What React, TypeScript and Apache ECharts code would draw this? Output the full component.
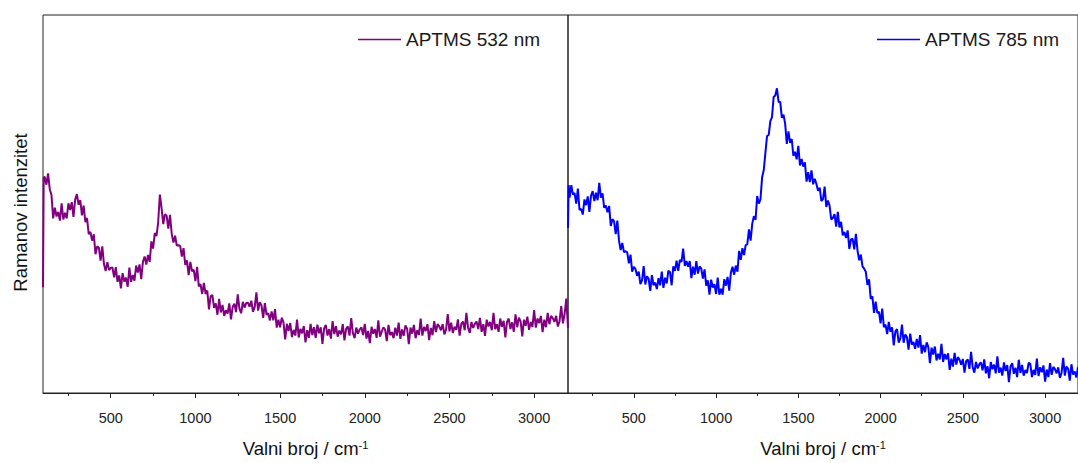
import React, { useEffect, useRef } from "react";
import * as echarts from "echarts";

// Wavenumber samples (cm^-1), shared by both spectra
const wavenumbers = [
  100, 104,
  110, 120, 130, 140, 150, 160, 170, 180, 190, 200,
  210, 220, 230, 240, 250, 260, 270, 280, 290, 300,
  310, 320, 330, 340, 350, 360, 370, 380, 390, 400,
  410, 420, 430, 440, 450, 460, 470, 480, 490, 500,
  510, 520, 530, 540, 550, 560, 570, 580, 590, 600,
  610, 620, 630, 640, 650, 660, 670, 680, 690, 700,
  710, 720, 730, 740, 750, 760, 770, 780, 790, 800,
  810, 820, 830, 840, 850, 860, 870, 880, 890, 900,
  910, 920, 930, 940, 950, 960, 970, 980, 990, 1000,
  1010, 1020, 1030, 1040, 1050, 1060, 1070, 1080, 1090, 1100,
  1110, 1120, 1130, 1140, 1150, 1160, 1170, 1180, 1190, 1200,
  1210, 1220, 1230, 1240, 1250, 1260, 1270, 1280, 1290, 1300,
  1310, 1320, 1330, 1340, 1350, 1360, 1370, 1380, 1390, 1400,
  1410, 1420, 1430, 1440, 1450, 1460, 1470, 1480, 1490, 1500,
  1510, 1520, 1530, 1540, 1550, 1560, 1570, 1580, 1590, 1600,
  1610, 1620, 1630, 1640, 1650, 1660, 1670, 1680, 1690, 1700,
  1710, 1720, 1730, 1740, 1750, 1760, 1770, 1780, 1790, 1800,
  1810, 1820, 1830, 1840, 1850, 1860, 1870, 1880, 1890, 1900,
  1910, 1920, 1930, 1940, 1950, 1960, 1970, 1980, 1990, 2000,
  2010, 2020, 2030, 2040, 2050, 2060, 2070, 2080, 2090, 2100,
  2110, 2120, 2130, 2140, 2150, 2160, 2170, 2180, 2190, 2200,
  2210, 2220, 2230, 2240, 2250, 2260, 2270, 2280, 2290, 2300,
  2310, 2320, 2330, 2340, 2350, 2360, 2370, 2380, 2390, 2400,
  2410, 2420, 2430, 2440, 2450, 2460, 2470, 2480, 2490, 2500,
  2510, 2520, 2530, 2540, 2550, 2560, 2570, 2580, 2590, 2600,
  2610, 2620, 2630, 2640, 2650, 2660, 2670, 2680, 2690, 2700,
  2710, 2720, 2730, 2740, 2750, 2760, 2770, 2780, 2790, 2800,
  2810, 2820, 2830, 2840, 2850, 2860, 2870, 2880, 2890, 2900,
  2910, 2920, 2930, 2940, 2950, 2960, 2970, 2980, 2990, 3000,
  3010, 3020, 3030, 3040, 3050, 3060, 3070, 3080, 3090, 3100,
  3110, 3120, 3130, 3140, 3150, 3160, 3170, 3180, 3190, 3200,
];

// APTMS 532 nm intensities (arbitrary units)
const aptms532 = [
  28, 57,
  57.2, 55.1, 58.1, 53.9, 52.4, 46.2, 49, 46.7, 47.9, 45.6,
  50.2, 45.9, 47.7, 46.2, 50.2, 48.4, 50.5, 46.6, 51.2, 52.6,
  49.8, 51, 47, 49.6, 45.2, 46.3, 42, 42.6, 40.3, 42,
  36.7, 38.8, 38.4, 35, 38.8, 34.1, 32.3, 34.6, 32.5, 33.1,
  33.2, 30.6, 33.3, 29.4, 31.1, 27.7, 31.7, 29.5, 30.5, 28.1,
  33.2, 29.4, 31.2, 29.7, 33.7, 31.9, 34, 30.1, 34.7, 36.1,
  34, 36.5, 34.7, 40.1, 38.2, 42.3, 41.5, 45.1, 52.5, 49,
  44.7, 47.3, 46.9, 43.5, 47.1, 42.1, 39.8, 41.6, 39, 39.1,
  38.9, 36.1, 38.3, 33.9, 35.1, 31.2, 34.7, 32.2, 32.6, 29.6,
  33.4, 28.2, 28.8, 26.2, 29.1, 26.2, 27.1, 22.1, 25.6, 25.9,
  22.5, 23.7, 20.7, 24.9, 21.3, 23.3, 20.4, 21.9, 21, 23.7,
  19.5, 22.8, 23.6, 21.4, 26.1, 22.3, 21.1, 24.1, 22.6, 23.8,
  23.9, 22.8, 24.4, 21.5, 22.7, 26.6, 21.8, 24, 23.2, 19.9,
  23.8, 20.7, 21.1, 19.2, 21.6, 19.2, 22.2, 17.3, 19.4, 17.4,
  19.9, 18.7, 14.2, 18.3, 16.4, 18.5, 14.8, 16.7, 15.2, 19.4,
  14.7, 17, 15.8, 17.7, 13.4, 16.6, 14.6, 18.3, 15.3, 17.4,
  14.6, 18.1, 15.8, 17.4, 13, 17.1, 18, 15.2, 16.9, 14.4,
  19, 15.6, 17.7, 14.9, 16.5, 15.5, 18.2, 13.9, 17, 17.6,
  15.2, 19.8, 15.8, 14.5, 17.3, 15.7, 16.8, 17.4, 15.3, 18.3,
  14.4, 16.4, 13.2, 17.5, 15.7, 16.9, 14.6, 19.2, 14.9, 16.2,
  17.4, 16.8, 13.7, 18, 15.3, 16.1, 14.5, 17.3, 15.2, 18.6,
  14.3, 16.8, 15.1, 17.9, 17, 12.9, 17.3, 15.7, 18, 14.5,
  16.6, 15.4, 19.7, 15.2, 17.5, 16.4, 18.2, 14, 17.2, 15.3,
  19, 16.1, 18.2, 17.6, 16.6, 18.2, 15.5, 16.8, 20.9, 16.3,
  18.6, 15.9, 17.5, 16.7, 19.5, 15.2, 18.3, 18.9, 16.6, 21.2,
  17.2, 15.9, 18.8, 17.2, 18.3, 18.9, 16.9, 19.9, 16.2, 18.2,
  15.1, 19.4, 17.6, 18.8, 16.6, 21.2, 16.9, 18.2, 16.2, 19.7,
  17.5, 19.1, 14.7, 18.8, 19.7, 16.9, 18.7, 16.2, 20.8, 17.4,
  19.9, 19, 15, 19.4, 17.8, 20.2, 16.7, 18.8, 17.5, 21.9,
  17.3, 19.7, 18.5, 20.4, 16.1, 19.4, 17.4, 21.2, 18.2, 20.4,
  19.8, 18.8, 20.4, 17.6, 19, 23, 18.4, 20.9, 25, 17.2,
];

// APTMS 785 nm intensities (arbitrary units)
const aptms785 = [
  43.7, 55,
  51.7, 55, 52.5, 52.9, 50.1, 54.1, 48.4, 48.7, 47.2, 51.2,
  49.7, 52, 47.9, 52.2, 53.4, 50.8, 53, 51, 55.6, 51.7,
  52.8, 49, 49.6, 47.8, 49.5, 44.2, 46, 45.4, 42, 45.6,
  40.3, 37.8, 39.7, 37.3, 37.5, 37.2, 34.3, 36.6, 32.1, 33.4,
  32.8, 31, 32.1, 28.8, 29.8, 33.6, 28.7, 30.9, 30.2, 27,
  31.2, 28.5, 29.2, 27.5, 30.4, 28.5, 32.1, 27.8, 30.5, 29,
  32.3, 32, 28.5, 33.5, 32.3, 35, 32.3, 35.2, 34.7, 38.2,
  33.6, 34.9, 33.4, 34.9, 30.4, 33.4, 31.3, 34.9, 31.6, 33.5,
  32.9, 30.3, 32.7, 28.4, 29.8, 26, 30, 27.9, 28.8, 26.2,
  30.5, 26, 27.6, 26, 30.1, 28.4, 30.7, 27.1, 31.8, 33.4,
  31.3, 33.7, 32.1, 37.6, 35.2, 38.3, 36.5, 39.1, 39.4, 43.3,
  40.3, 44.8, 46.8, 45.8, 52.1, 50.1, 51.3, 57.1, 59, 63.6,
  68, 68.3, 71.9, 73, 78.3, 78.7, 80.6, 77, 77, 72.8,
  73.6, 71.2, 65.9, 69.2, 66.2, 67.2, 62.7, 63.8, 61.8, 65.4,
  60.2, 61.9, 59.9, 61, 55.9, 58.4, 55.8, 58.9, 55.2, 56.7,
  55.3, 53.5, 54.3, 50.8, 51.3, 54.6, 49.2, 50.9, 49.6, 45.9,
  46.3, 47.3, 44, 47.9, 43.8, 45.3, 41.7, 42.6, 41, 43,
  38.1, 40.6, 40.8, 38, 42.1, 37.6, 35.1, 36.6, 33.5, 32.9,
  32.1, 28.6, 30.1, 24.9, 25.6, 21.2, 24.2, 21.2, 21.5, 18.4,
  22.3, 17.4, 18.1, 15.6, 18.8, 16.2, 17.4, 12.6, 16.3, 16.9,
  13.3, 14.4, 18.1, 13.3, 15.5, 14.8, 11.5, 15.7, 12.8, 13.5,
  11.7, 14.3, 12, 15.3, 10.4, 12.7, 10.8, 13.4, 12.2, 7.9,
  12, 10.2, 12.3, 8.6, 10.4, 8.9, 13, 8.2, 10.3, 8.9,
  10.5, 6.1, 9.1, 7, 10.6, 7.5, 9.5, 8.8, 7.5, 9,
  5.4, 8.4, 8.9, 6.4, 10.9, 6.8, 5.4, 8.2, 6.5, 7.6,
  8.1, 6, 8.9, 5.2, 7.1, 3.9, 8.2, 6.3, 7.5, 5.2,
  9.7, 5.4, 6.7, 4.6, 8.1, 5.8, 7.4, 2.9, 7, 7.9,
  5.1, 6.7, 4.2, 8.8, 5.3, 7.4, 4.6, 6.1, 5.3, 8,
  7.7, 4.2, 6.1, 4.8, 9.1, 4.5, 6.8, 5.5, 7.3, 3,
  6.2, 4.2, 7.9, 4.8, 6.9, 6.3, 5.2, 6.8, 4, 5.3,
  9.3, 4.6, 7, 6.4, 3.3, 7.6, 4.9, 5.7, 4.1, 6.9,
];

const tickLabels = [500, 1000, 1500, 2000, 2500, 3000];
const minorTicks = [250, 750, 1250, 1750, 2250, 2750];

const series532Name = "APTMS 532 nm";
const series785Name = "APTMS 785 nm";
const xName = "Valni broj / cm{sup|-1}";
const yName = "Ramanov intenzitet";

const COLOR_532 = "#800080";
const COLOR_785 = "#0000ff";

const FONT = "'Liberation Sans', Arial, sans-serif";
const AXIS_COLOR = "#222";

function mainXAxis(gridIndex: number) {
  return {
    type: "value",
    gridIndex,
    min: 100,
    max: 3200,
    axisLine: { show: true, lineStyle: { color: AXIS_COLOR, width: 1 } },
    axisTick: {
      show: true,
      length: 5,
      customValues: tickLabels,
      lineStyle: { color: AXIS_COLOR, width: 1 },
    },
    axisLabel: {
      customValues: tickLabels,
      formatter: (v: number) => String(v),
      fontSize: 14.5,
      color: "#222",
      margin: 17,
      fontFamily: FONT,
    },
    splitLine: { show: false },
    name: xName,
    nameLocation: "middle",
    nameGap: 46,
    nameTextStyle: {
      fontSize: 18.5,
      color: "#111",
      fontFamily: FONT,
      rich: {
        sup: { fontSize: 11, verticalAlign: "top", fontFamily: FONT, color: "#111" },
      },
    },
  };
}

function minorXAxis(gridIndex: number) {
  return {
    type: "value",
    gridIndex,
    min: 100,
    max: 3200,
    position: "bottom",
    axisLine: { show: false },
    axisTick: {
      show: true,
      length: 3,
      customValues: minorTicks,
      lineStyle: { color: AXIS_COLOR, width: 1 },
    },
    axisLabel: { show: false },
    splitLine: { show: false },
  };
}

function legendFor(name: string, color: string, left: number) {
  return {
    data: [{ name, icon: "rect", itemStyle: { color, borderWidth: 0 } }],
    left,
    top: 30,
    padding: 0,
    itemWidth: 43,
    itemHeight: 1.3,
    textStyle: { fontSize: 19, color: "#1a1a1a", fontFamily: FONT },
  };
}

export default function App() {
  const ref = useRef<HTMLDivElement>(null);

  useEffect(() => {
    if (!ref.current) return;
    const chart = echarts.init(ref.current, undefined, { renderer: "svg" });
    const option = {
      animation: false,
      backgroundColor: "#ffffff",
      textStyle: { fontFamily: FONT },
      grid: [
        { left: 43, top: 15, width: 525, height: 387, show: true, borderColor: AXIS_COLOR, borderWidth: 1, backgroundColor: "transparent" },
        { left: 568, top: 15, width: 525, height: 387, show: true, borderColor: AXIS_COLOR, borderWidth: 1, backgroundColor: "transparent" },
      ],
      xAxis: [mainXAxis(0), mainXAxis(1), minorXAxis(0), minorXAxis(1)],
      yAxis: [
        {
          type: "value",
          gridIndex: 0,
          min: 0,
          max: 100,
          axisLine: { show: false },
          axisTick: { show: false },
          axisLabel: { show: false },
          splitLine: { show: false },
          name: yName,
          nameLocation: "middle",
          nameGap: 13,
          nameTextStyle: { fontSize: 18.5, color: "#111", fontFamily: FONT, padding: [0, 17, 0, 0] },
        },
        {
          type: "value",
          gridIndex: 1,
          min: 0,
          max: 100,
          axisLine: { show: false },
          axisTick: { show: false },
          axisLabel: { show: false },
          splitLine: { show: false },
        },
      ],
      legend: [
        legendFor(series532Name, COLOR_532, 358),
        legendFor(series785Name, COLOR_785, 877),
      ],
      series: [
        {
          type: "line",
          name: series532Name,
          xAxisIndex: 0,
          yAxisIndex: 0,
          data: wavenumbers.map((w, i) => [w, aptms532[i]]),
          symbol: "none",
          color: COLOR_532,
          lineStyle: { width: 2, color: COLOR_532 },
          itemStyle: { color: COLOR_532 },
        },
        {
          type: "line",
          name: series785Name,
          xAxisIndex: 1,
          yAxisIndex: 1,
          data: wavenumbers.map((w, i) => [w, aptms785[i]]),
          symbol: "none",
          color: COLOR_785,
          lineStyle: { width: 2, color: COLOR_785 },
          itemStyle: { color: COLOR_785 },
        },
      ],
    };
    chart.setOption(option as any);
    return () => chart.dispose();
  }, []);

  return (
    <div
      ref={ref}
      style={{ position: "absolute", left: 0, top: 0, width: 1078, height: 463 }}
    />
  );
}
